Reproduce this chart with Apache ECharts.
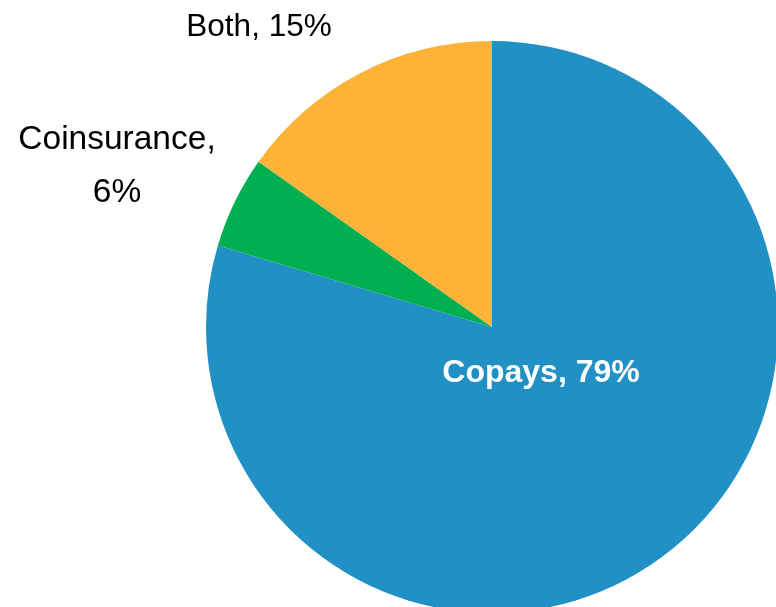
<!DOCTYPE html>
<html>
<head>
<meta charset="utf-8">
<script src="https://cdn.jsdelivr.net/npm/echarts@6/dist/echarts.min.js"></script>
<style>html,body{margin:0;padding:0;background:#fff}#c{width:776px;height:607px}</style>
</head>
<body>
<div id="c"></div>
<script>
var categories = ['Copays', 'Coinsurance', 'Both'];
var values = [79.6, 5.2, 15.2];
var labelPercents = ['79%', '6%', '15%'];
var colors = ['#2190C4', '#00B050', '#FDB338'];

var labelPos = [
  {x: 541, y: 373},
  {x: 117, y: 166},
  {x: 259, y: 27}
];
var labelTexts = ['Copays, ' + labelPercents[0], 'Coinsurance,\n' + labelPercents[1], 'Both, ' + labelPercents[2]];

var chart = echarts.init(document.getElementById('c'));
chart.setOption({
  animation: false,
  series: [{
    type: 'pie',
    center: [492, 327],
    radius: [0, 286],
    startAngle: 90,
    clockwise: true,
    avoidLabelOverlap: false,
    labelLine: {show: false},
    itemStyle: {borderWidth: 0},
    data: categories.map(function (c, i) {
      return {
        name: c,
        value: values[i],
        itemStyle: {color: colors[i]},
        label: i === 0 ? {
          color: '#fff', fontWeight: 'bold', fontSize: 32,
          fontFamily: 'Liberation Sans, Arial, sans-serif'
        } : {
          color: '#000', fontSize: i === 1 ? 33.5 : 31.5, lineHeight: 53,
          fontFamily: 'Liberation Sans, Arial, sans-serif'
        }
      };
    }),
    label: {
      show: true,
      position: 'outside',
      formatter: function (p) { return labelTexts[p.dataIndex]; },
      align: 'center'
    },
    labelLayout: function (p) {
      var pos = labelPos[p.dataIndex];
      return {x: pos.x, y: pos.y, align: 'center', verticalAlign: 'middle'};
    }
  }]
});
</script>
</body>
</html>
